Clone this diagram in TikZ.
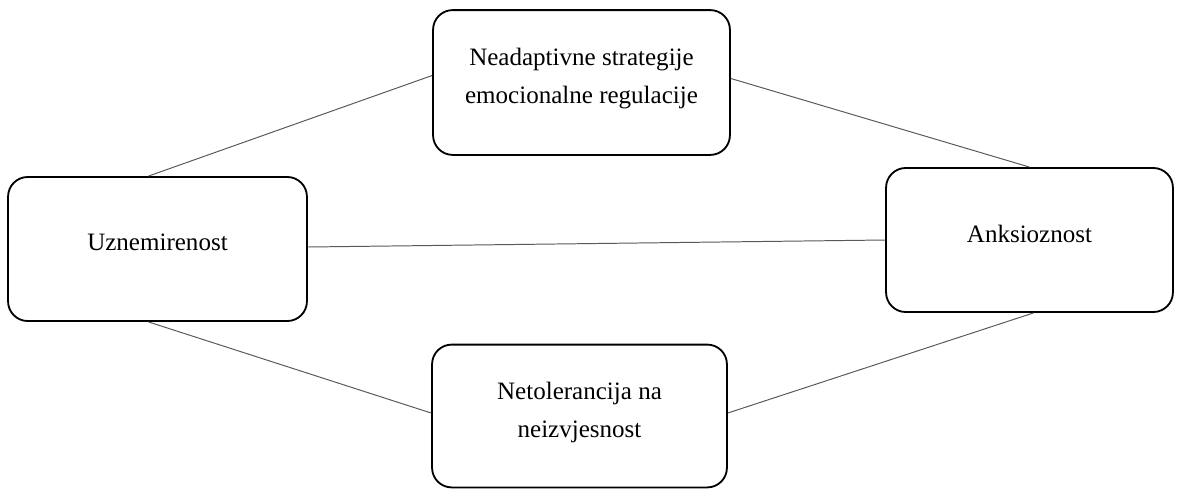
\documentclass[tikz,border=0pt]{standalone}
\usepackage{fontspec}
\setmainfont{Liberation Serif}
\begin{document}
\begin{tikzpicture}[x=0.025cm, y=-0.025cm,
        box/.style={draw, rounded corners=14pt, line width=1.3pt, align=center,
            font=\fontsize{17.8}{27}\selectfont, inner sep=0pt, text depth=9pt},
        link/.style={line width=0.7pt, draw=black!65}]
        \useasboundingbox (0,0) rectangle (1180,489);

        \node[box, minimum width=7.42cm, minimum height=3.62cm] (neadapt) at (581.5,82.5)
            {Neadaptivne strategije\\emocionalne regulacije};
        \node[box, minimum width=7.47cm, minimum height=3.6cm] (uznem) at (157.5,249)
            {Uznemirenost};
        \node[box, minimum width=7.17cm, minimum height=3.6cm] (anks) at (1029.5,240)
            {Anksioznost};
        \node[box, minimum width=7.37cm, minimum height=3.57cm] (netol) at (579.5,416)
            {Netolerancija na\\neizvjesnost};

        \draw [link] ([xshift=-9*0.025cm]uznem.north) -- ([yshift=7*0.025cm]neadapt.west);
        \draw [link] ([yshift=4*0.025cm]neadapt.east) -- (anks.north);
        \draw [link] ([yshift=2*0.025cm]uznem.east) -- (anks.west);
        \draw [link] ([xshift=-9*0.025cm]uznem.south) -- ([yshift=3*0.025cm]netol.west);
        \draw [link] ([yshift=3*0.025cm]netol.east) -- ([xshift=4*0.025cm]anks.south);
    \end{tikzpicture}
\end{document}
